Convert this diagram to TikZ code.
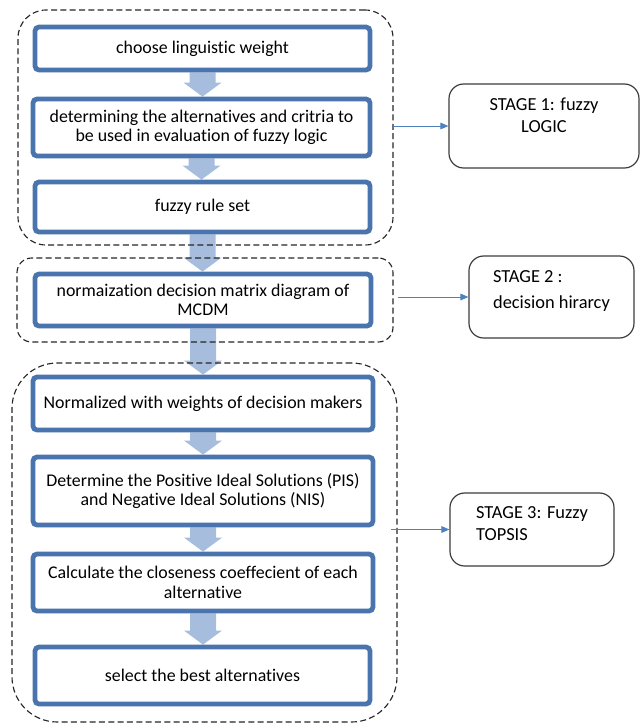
\documentclass[tikz,border=0pt]{standalone}
\usepackage{fontspec}
\setmainfont{Carlito}[Ligatures=NoCommon]
\usetikzlibrary{arrows.meta,shadows,calc,backgrounds}
\definecolor{boxblue}{RGB}{74,116,174}
\definecolor{arrowfill}{RGB}{167,189,222}
\definecolor{stagegray}{RGB}{60,60,60}
\definecolor{linkblue}{RGB}{79,129,189}
\tikzset{
  bluebox/.style={draw=boxblue, line width=3.6pt, rounded corners=3pt, fill=white,
    align=center, font=\fontsize{13.4}{14.6}\selectfont, inner sep=0pt,
    drop shadow={shadow xshift=0.8pt, shadow yshift=-1.5pt, opacity=0.25}},
  groupbox/.style={draw=black!85, dash pattern=on 4.5pt off 2.5pt, line width=0.85pt, inner sep=0pt},
  stagebox/.style={draw=stagegray, line width=0.9pt, rounded corners=11pt, inner sep=0pt,
    font=\fontsize{13.8}{16.5}\selectfont},
  barrow/.style={fill=arrowfill},
  link/.style={draw=linkblue, line width=0.75pt, -{Triangle[length=6pt,width=5pt]}}
}
\newcommand\blockarrow[2]{\fill[barrow] let \p1=(#1.south), \p2=(#2.north) in
  (\x1-9.75pt,\y1) -- (\x1+9.75pt,\y1) -- (\x1+9.75pt,\y2+10.5pt) -- (\x1+14.25pt,\y2+10.5pt)
  -- (\x1,\y2) -- (\x1-14.25pt,\y2+10.5pt) -- (\x1-9.75pt,\y2+10.5pt) -- cycle;}
\begin{document}
\begin{tikzpicture}[x=0.75pt,y=-0.75pt]
\useasboundingbox (0,0) rectangle (640,726);
% groups
\node[groupbox, rounded corners=21pt, minimum width=281.25pt, minimum height=176.25pt] (g1) at (205.5,127.5) {};
\node[groupbox, rounded corners=11pt, minimum width=282pt, minimum height=63pt] (g2) at (205,300) {};
\node[groupbox, rounded corners=34pt, minimum width=288.75pt, minimum height=269.25pt] (g3) at (204.5,542.5) {};
% boxes
\node[bluebox, minimum width=251.25pt, minimum height=32.25pt] (b1) at (202.5,48.5) {choose linguistic weight};
\node[bluebox, minimum width=252.75pt, minimum height=42.75pt] (b2) at (201.5,127.5) {determining the alternatives and critria to\\be used in evaluation of fuzzy logic};
\node[bluebox, minimum width=251.25pt, minimum height=37.5pt] (b3) at (202.5,207) {fuzzy rule set};
\node[bluebox, minimum width=252pt, minimum height=39pt] (b4) at (203,300) {normaization decision matrix diagram of\\MCDM};
\node[bluebox, minimum width=255pt, minimum height=39.75pt] (b5) at (203,403.5) {Normalized with weights of decision makers};
\node[bluebox, minimum width=255pt, minimum height=51pt] (b6) at (203,491) {Determine the Positive Ideal Solutions (PIS)\\and Negative Ideal Solutions (NIS)};
\node[bluebox, minimum width=255pt, minimum height=42.75pt] (b7) at (203,582.5) {Calculate the closeness coeffecient of each\\alternative};
\node[bluebox, minimum width=251.25pt, minimum height=42.75pt] (b8) at (202.5,675.5) {select the best alternatives};
% stage boxes
\node[stagebox, align=center, minimum width=142.5pt, minimum height=63pt] (s1) at (544,126) {STAGE 1: fuzzy\\LOGIC\\[-4.5pt]\strut};
\node[stagebox, align=left, minimum width=123.75pt, minimum height=61.5pt] (s2) at (551.5,297) {STAGE 2 :\\[3pt]decision hirarcy\\[-10pt]\strut};
\node[stagebox, align=left, minimum width=123pt, minimum height=54.75pt] (s3) at (532,529.5) {STAGE 3: Fuzzy\\TOPSIS\\[-12pt]\strut};
% block arrows
\begin{pgfonlayer}{background}
\blockarrow{b1}{b2}
\blockarrow{b2}{b3}
\blockarrow{b3}{b4}
\blockarrow{b4}{b5}
\blockarrow{b5}{b6}
\blockarrow{b6}{b7}
\blockarrow{b7}{b8}
\end{pgfonlayer}
% links
\draw[link] (g1.east |- s1.west) -- (s1.west);
\draw[link] ([xshift=3pt]g2.east |- s2.west) -- (s2.west);
\draw[link] ([xshift=-5pt]g3.east |- s3.west) -- (s3.west);
\end{tikzpicture}
\end{document}
